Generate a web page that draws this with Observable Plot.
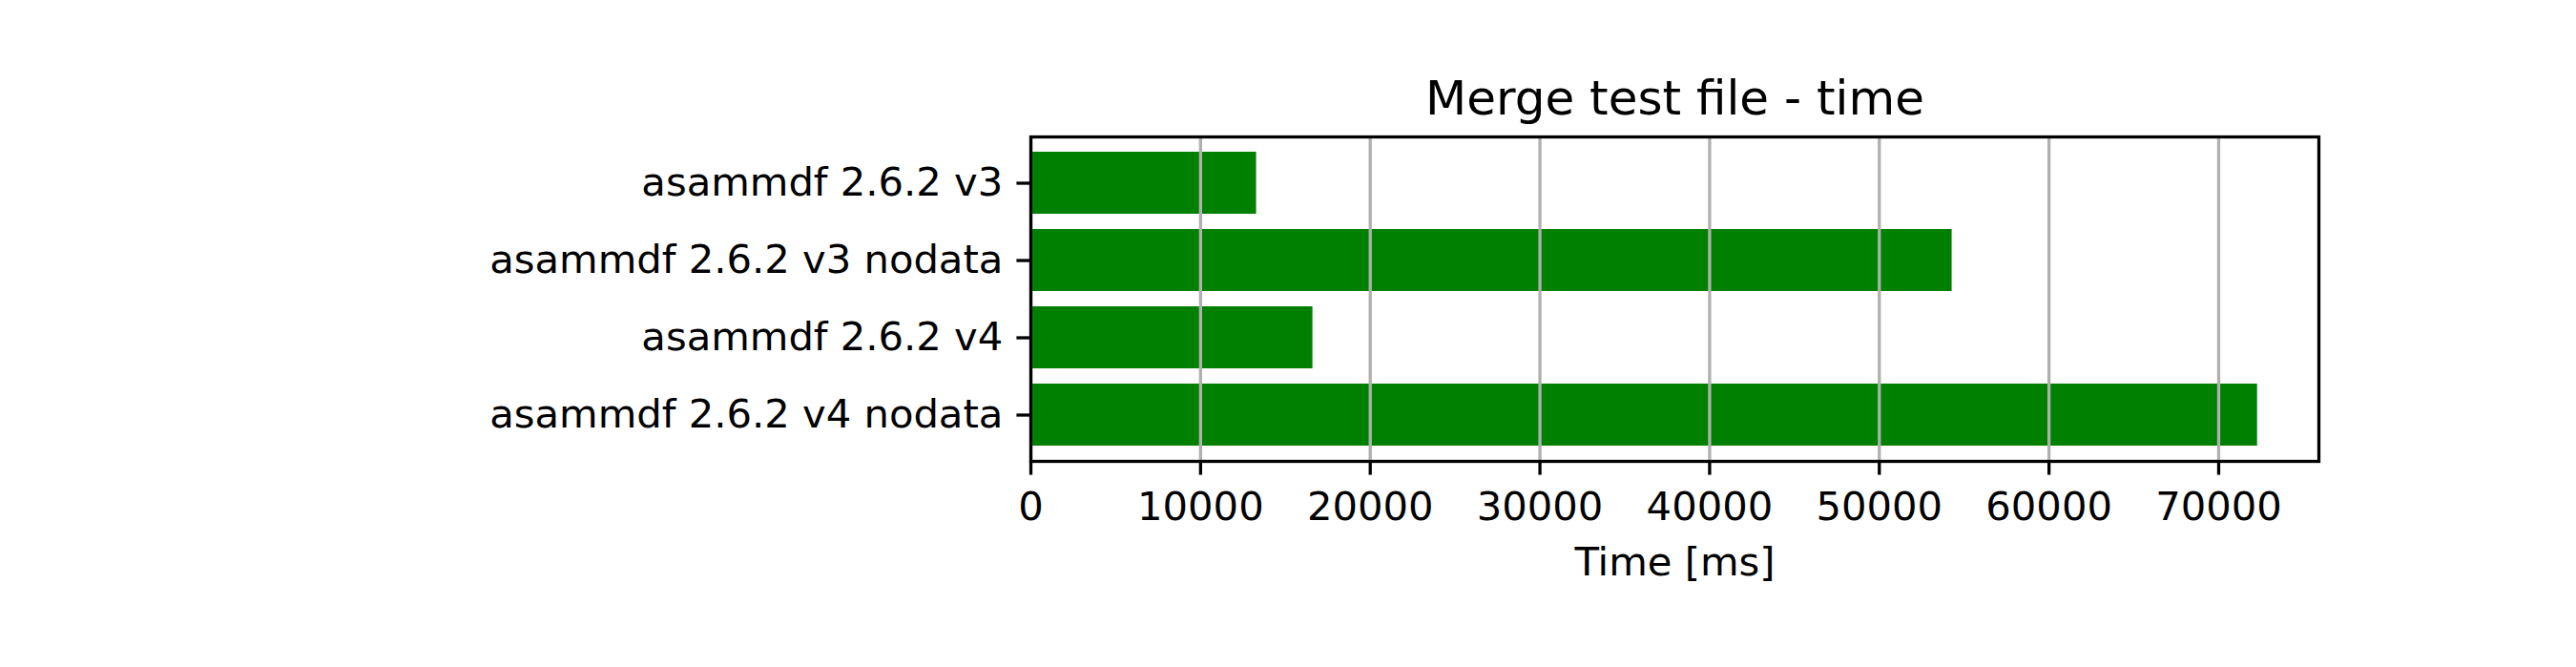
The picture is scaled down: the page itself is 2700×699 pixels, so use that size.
<!DOCTYPE html>
<html>
<head>
<meta charset="utf-8">
<script src="https://cdn.jsdelivr.net/npm/d3@7"></script>
<script src="https://cdn.jsdelivr.net/npm/@observablehq/plot@0.6"></script>
<style>
  html, body { margin: 0; padding: 0; background: #fff; }
  #wrap { position: relative; width: 2700px; height: 699px; font-family: "DejaVu Sans", sans-serif; }
  #title { position: absolute; left: 1080px; width: 1351px; top: 0; height: 123px; text-align: center;
           font-size: 50px; line-height: 50px; color: #000; z-index: 2; }
  #title span { position: absolute; left: 0; right: 0; top: 78px; }
  #chart { position: absolute; left: 0; top: 123px; z-index: 1; }
</style>
</head>
<body>
<div id="wrap">
  <div id="title"><span>Merge test file - time</span></div>
  <div id="chart"></div>
</div>
<script>
const titleText = "Merge test file - time";
const xLabel = "Time [ms]";
const categories = [
  "asammdf 2.6.2 v3",
  "asammdf 2.6.2 v3 nodata",
  "asammdf 2.6.2 v4",
  "asammdf 2.6.2 v4 nodata"
];
const times = [13300, 54290, 16620, 72290];
const xTicks = [0, 10000, 20000, 30000, 40000, 50000, 60000, 70000];

const data = categories.map((c, i) => ({name: c, time: times[i]}));
const xMax = d3.max(times) * 1.05;

document.querySelector("#title span").textContent = titleText;

const chart = Plot.plot({
  width: 2700,
  height: 576,
  marginTop: 20,
  marginBottom: 216,
  marginLeft: 1080,
  marginRight: 270,
  style: {fontFamily: "DejaVu Sans, sans-serif", fontSize: "41.7px", color: "#000", background: "transparent"},
  x: {domain: [0, xMax]},
  y: {domain: categories, paddingInner: 0.2, paddingOuter: 0.19},
  marks: [
    Plot.barX(data, {x: "time", y: "name", fill: "#008000"}),
    Plot.ruleX(xTicks, {stroke: "#b0b0b0", strokeWidth: 3.3}),
    Plot.axisX({ticks: xTicks, tickFormat: d => String(d), tickSize: 14.6, tickPadding: 17,
                strokeWidth: 3.3, fontSize: 41.7, label: null}),
    Plot.axisY({tickSize: 14.6, tickPadding: 14.6, strokeWidth: 3.3, fontSize: 41.7, label: null}),
    Plot.text([xLabel], {text: d => d, frameAnchor: "bottom", dy: 90, lineAnchor: "top", fontSize: 41.7, fill: "#000"}),
    Plot.frame({stroke: "#000", strokeWidth: 3.3})
  ]
});
document.getElementById("chart").appendChild(chart);
</script>
</body>
</html>
